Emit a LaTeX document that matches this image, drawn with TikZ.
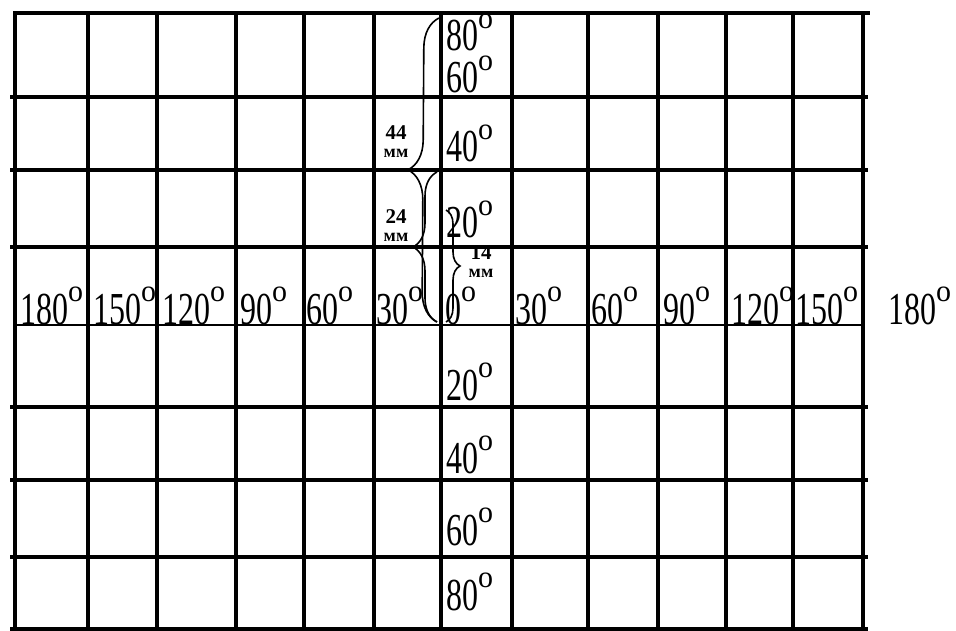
\documentclass[tikz,border=0pt]{standalone}
\usepackage{fontspec}
\setmainfont{Liberation Serif}
\usetikzlibrary{decorations.pathreplacing, positioning}
\newcommand{\gr}{\raisebox{16pt}{\scalebox{1}[0.72]{\fontsize{30}{30}\selectfont o}}}

\begin{document}
\begin{tikzpicture}[x=1pt, y=-1pt,
    vline/.style={line width=4.5pt},
    hline/.style={line width=3.5pt},
    deg/.style={anchor=base west, inner sep=0pt, font=\fontsize{32}{32}\selectfont, yscale=1.43},
    num/.style={anchor=base, inner sep=0pt, font=\bfseries\fontsize{21}{21}\selectfont},
    unit/.style={anchor=base, inner sep=0pt, font=\bfseries\fontsize{18}{18}\selectfont},
    brc/.style={decorate, decoration={brace, amplitude=#1}, line width=1.6pt}]

    \useasboundingbox (0,0) rectangle (956,631);

    % Grille
    \foreach \x in {15,88,157,236,304,374,441,512,588,658,726,793,863}
        \draw[vline] (\x,13) -- (\x,631);
    \foreach \y in {97,170,247,407,480,557,629}
        \draw[hline] (10,\y) -- (868,\y);
    \draw[hline] (13,13) -- (870,13);
    \draw[line width=1.5pt] (15,325) -- (863,325);

    % Longitudes
    \foreach \v/\x [count=\i] in {180/20, 150/93, 120/162, 90/240, 60/306, 30/376, 0/445,
                                  30/515, 60/591, 90/663, 120/731, 150/795, 180/888}
        \node[deg] (lon\i) at (\x,324) {\v\gr};

    % Latitudes
    \foreach \v/\y/\n in {80/51/n80, 60/93/n60, 40/162/n40, 20/238/n20,
                          20/400/s20, 40/473/s40, 60/545/s60, 80/610/s80}
        \node[deg] (\n) at (446,\y) {\v\gr};

    % Accolades
    \coordinate (eq) at (437,322);
    \coordinate (p80) at (439,18);
    \coordinate (p40) at (437,172);
    \coordinate (p20) at (446,210);
    \coordinate (eqr) at (446,322);
    \draw[brc=30] (eq) -- (p80);
    \draw[brc=24] (eq) -- (p40);
    \draw[brc=14] (p20) -- (eqr);

    % Distances
    \node[num] (d44) at (396,140) {44};
    \node[unit] (u44) at (396,158) {мм};
    \node[num] (d24) at (396,224) {24};
    \node[unit] (u24) at (396,242) {мм};
    \node[num] (d14) at (481,259) {14};
    \node[unit] (u14) at (481,277) {мм};

\end{tikzpicture}
\end{document}
